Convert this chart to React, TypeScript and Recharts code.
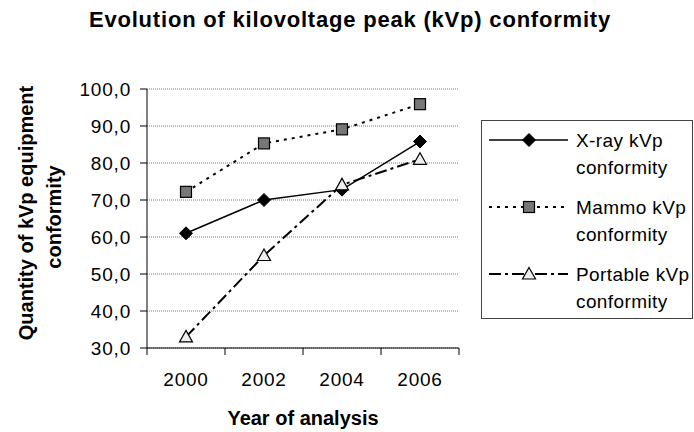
import React from 'react';
import { LineChart, Line, XAxis, YAxis, CartesianGrid, Legend, Label } from 'recharts';

const years = [2000, 2002, 2004, 2006];
const xrayConformity = [61.0, 70.0, 72.8, 85.8];
const mammoConformity = [72.2, 85.3, 89.1, 95.9];
const portableConformity = [33.0, 55.0, 74.1, 81.0];
const yTicks = [30, 40, 50, 60, 70, 80, 90, 100];
// category boundaries (Excel draws the x tick marks between the years)
const boundaryYears = [1999, 2001, 2003, 2005, 2007];

const seriesNames = ['X-ray kVp conformity', 'Mammo kVp conformity', 'Portable kVp conformity'];
const legendLines = [
  ['X-ray kVp', 'conformity'],
  ['Mammo kVp', 'conformity'],
  ['Portable kVp', 'conformity'],
];

const data = years.map((year, i) => ({
  year,
  xray: xrayConformity[i],
  mammo: mammoConformity[i],
  portable: portableConformity[i],
}));

const xTicks = [...boundaryYears, ...years].sort((a, b) => a - b);

const FONT = '"Liberation Sans", Arial, Helvetica, sans-serif';

const Diamond = ({ cx, cy }: { cx: number; cy: number }) => (
  <path d={`M${cx},${cy - 6.5} L${cx + 6.5},${cy} L${cx},${cy + 6.5} L${cx - 6.5},${cy} Z`} fill="#000" stroke="#000" />
);
const Square = ({ cx, cy }: { cx: number; cy: number }) => (
  <rect x={cx - 5.5} y={cy - 5.5} width={11} height={11} fill="#777" stroke="#000" strokeWidth={1.2} />
);
const Triangle = ({ cx, cy }: { cx: number; cy: number }) => (
  <path d={`M${cx},${cy - 6.5} L${cx + 6.5},${cy + 5} L${cx - 6.5},${cy + 5} Z`} fill="#eee" stroke="#000" strokeWidth={1.2} />
);

const markers = [Diamond, Square, Triangle];
const dashes = [undefined, '3 5', '12 4 3 4'];
const widths = [1.5, 2, 2];

const makeDot = (Shape: any, id: string) => (props: any) => {
  if (props.cx == null || props.cy == null) return <g key={`${id}-${props.index}`} />;
  return <Shape key={`${id}-${props.index}`} cx={props.cx} cy={props.cy} />;
};

const XTick = (props: any) => {
  const { x, y, payload } = props;
  if (boundaryYears.includes(payload.value)) {
    return <line x1={x} x2={x} y1={y} y2={y + 7} stroke="#000" />;
  }
  return (
    <text x={x} y={y + 25} dy="0.71em" textAnchor="middle" fontFamily={FONT} fontSize={19} letterSpacing={0.8} fill="#000">
      {payload.value}
    </text>
  );
};

const LegendBox = () => (
  <div style={{ width: 210, height: 197, border: '1px solid #444', background: '#fff', boxSizing: 'content-box' }}>
    <svg width={210} height={197}>
      {legendLines.map((lines, i) => {
        const y = 19 + i * 67;
        const Shape = markers[i];
        return (
          <g key={seriesNames[i]}>
            <line x1={7} x2={86} y1={y} y2={y} stroke="#000" strokeWidth={widths[i]} strokeDasharray={dashes[i]} />
            <Shape cx={47} cy={y} />
            <text x={94} y={y} dy="0.35em" fontFamily={FONT} fontSize={19} letterSpacing={0.4} fill="#000">{lines[0]}</text>
            <text x={94} y={y + 27} dy="0.35em" fontFamily={FONT} fontSize={19} letterSpacing={0.4} fill="#000">{lines[1]}</text>
          </g>
        );
      })}
    </svg>
  </div>
);

const YTitle = () => {
  const cy = 213;
  return (
    <g>
      <text x={33} y={cy} transform={`rotate(-90, 33, ${cy})`} textAnchor="middle" fontFamily={FONT} fontSize={20} fontWeight="bold" fill="#000">
        Quantity of kVp equipment
      </text>
      <text x={61} y={cy + 4} transform={`rotate(-90, 61, ${cy + 4})`} textAnchor="middle" fontFamily={FONT} fontSize={20} fontWeight="bold" fill="#000">
        conformity
      </text>
    </g>
  );
};

export default function App() {
  const keys = ['xray', 'mammo', 'portable'];
  return (
    <div style={{ position: 'absolute', left: 0, top: 0, width: 694, height: 432, background: '#fff' }}>
      <div
        style={{
          position: 'absolute', left: 0, top: 9, width: 700, textAlign: 'center',
          fontFamily: FONT, fontWeight: 'bold', fontSize: 22, lineHeight: '22px', letterSpacing: 0.8, color: '#000',
        }}
      >
        Evolution of kilovoltage peak (kVp) conformity
      </div>
      <LineChart width={694} height={432} data={data} margin={{ top: 89, right: 235, bottom: 0, left: 0 }}>
        <CartesianGrid vertical={false} stroke="#777" strokeDasharray="1 1" />
        <XAxis
          dataKey="year"
          type="number"
          domain={[1999, 2007]}
          ticks={xTicks}
          interval={0}
          tickLine={false}
          axisLine={{ stroke: '#000' }}
          tickSize={0}
          tickMargin={0}
          height={84}
          tick={<XTick />}
        >
          <Label value="Year of analysis" position="insideBottom" offset={7} fontFamily={FONT} fontSize={20} fontWeight="bold" fill="#000" />
        </XAxis>
        <YAxis
          width={147}
          domain={[30, 100]}
          ticks={yTicks}
          interval={0}
          tickFormatter={(v: number) => v.toFixed(1).replace('.', ',')}
          axisLine={{ stroke: '#000' }}
          tickLine={{ stroke: '#000' }}
          tickSize={7}
          tickMargin={9}
          tick={{ fontFamily: FONT, fontSize: 19, fill: '#000', letterSpacing: 0.8 }}
          label={<YTitle />}
        />
        {keys.map((k, i) => (
          <Line
            key={k}
            dataKey={k}
            name={seriesNames[i]}
            stroke="#000"
            strokeWidth={widths[i]}
            strokeDasharray={dashes[i]}
            dot={makeDot(markers[i], k)}
            activeDot={false}
            isAnimationActive={false}
          />
        ))}
        <Legend
          layout="vertical"
          align="center"
          verticalAlign="middle"
          content={() => <LegendBox />}
          wrapperStyle={{ position: 'absolute', left: 481, top: 120, width: 212, height: 199 }}
        />
      </LineChart>
    </div>
  );
}
